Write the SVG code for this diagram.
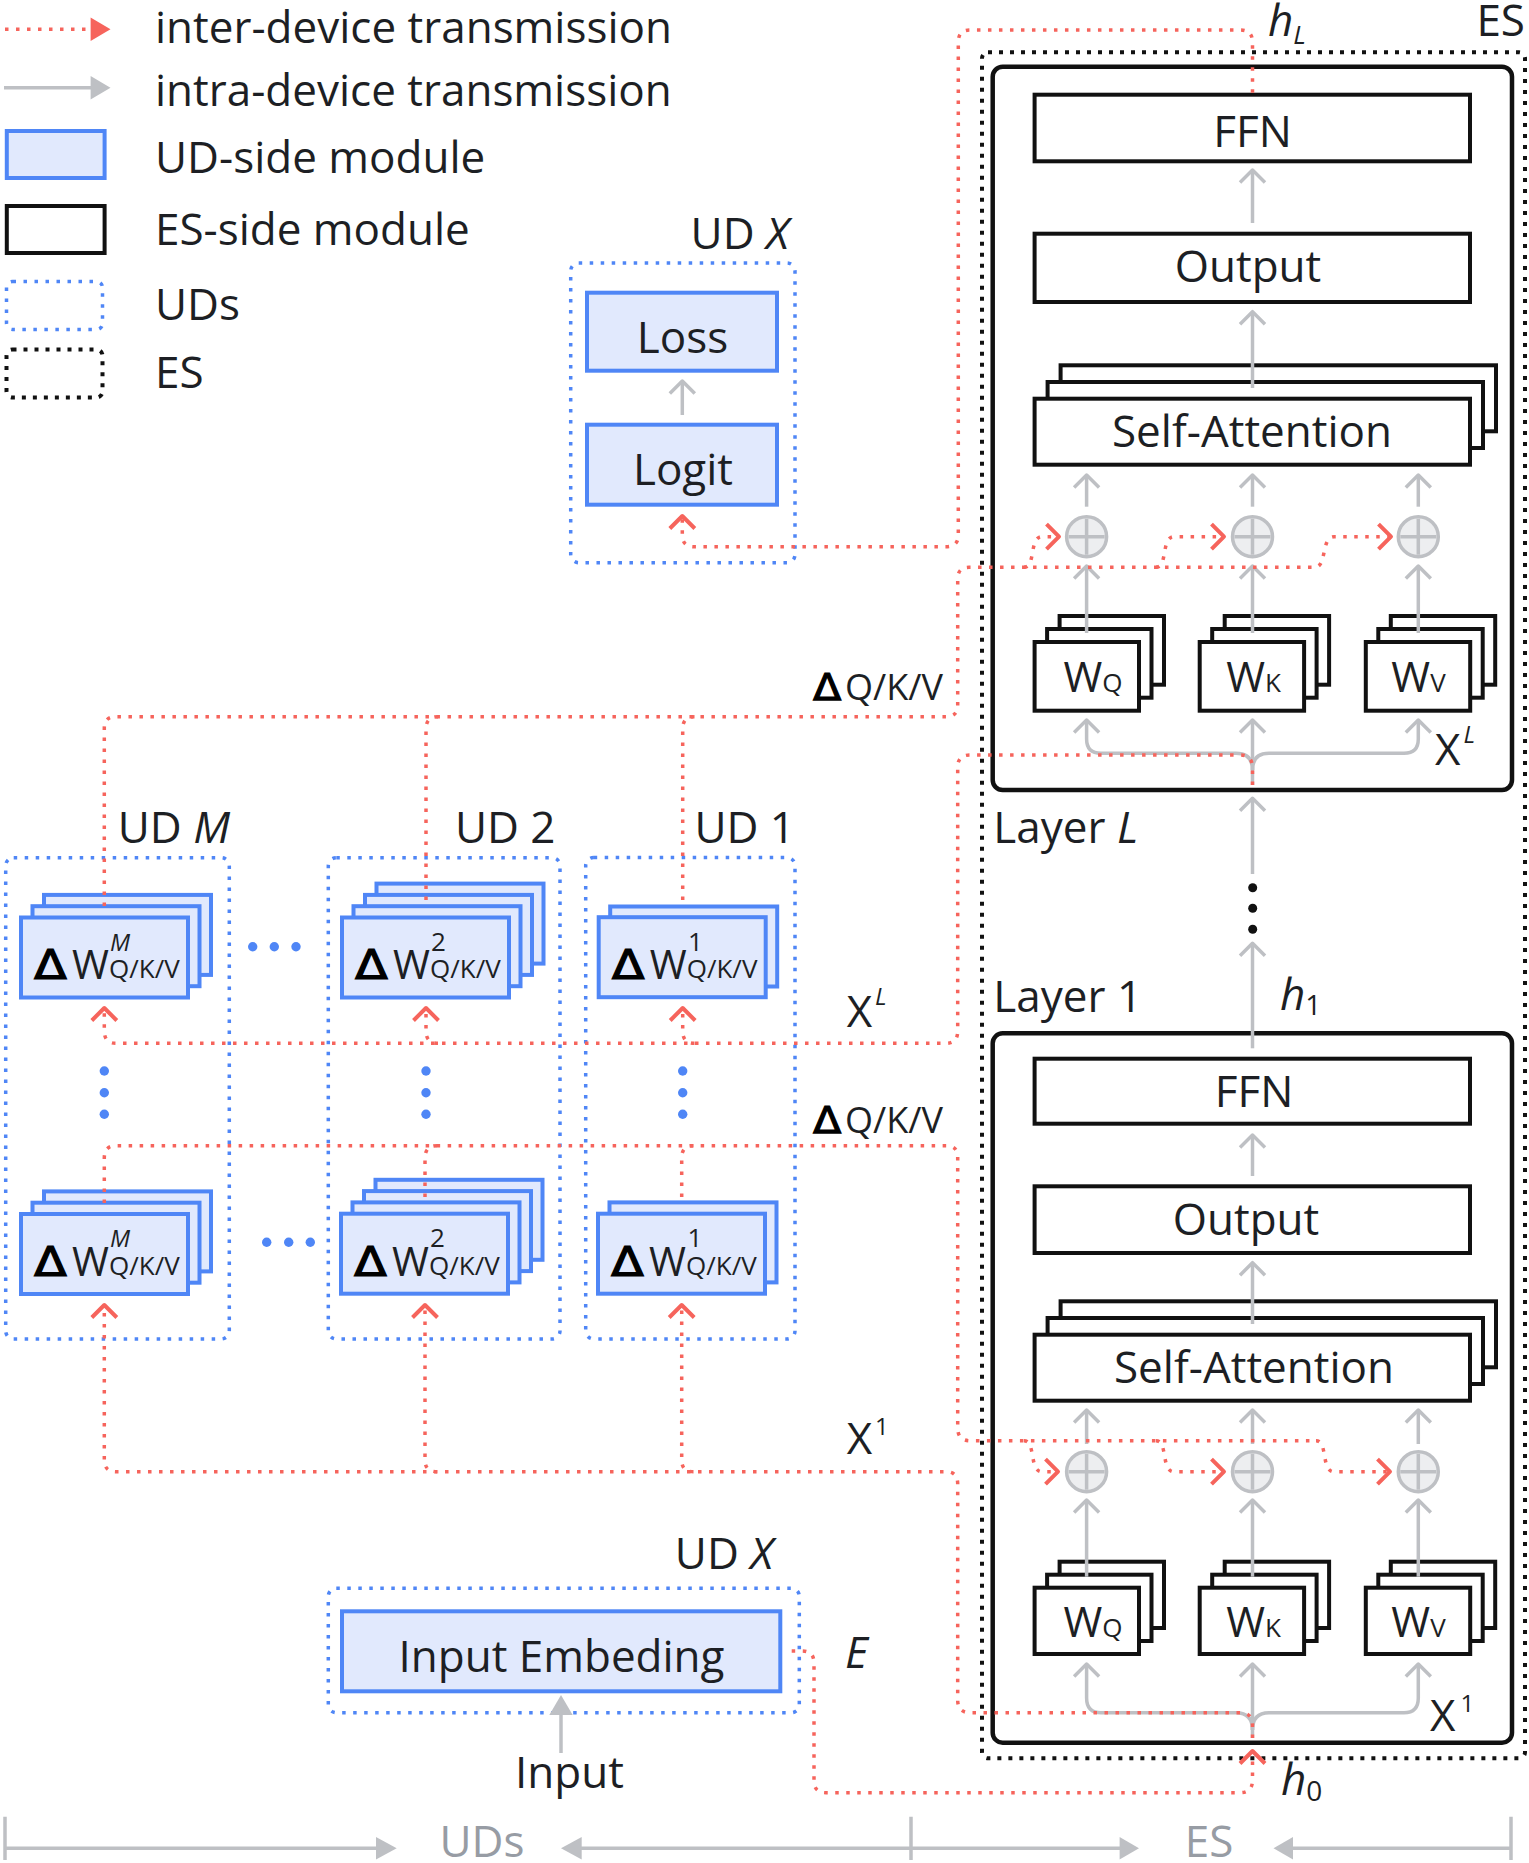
<svg xmlns="http://www.w3.org/2000/svg" width="1529" height="1863" viewBox="0 0 1529 1863">
<defs>
<style>
.t{font-family:"Open Sans","Noto Sans",sans-serif;font-size:44px;fill:#1d1f24}
.it{font-style:italic}
.dl{font-family:"DejaVu Sans",sans-serif;fill:#000;font-size:41px;stroke:#000;stroke-width:1.2}
.dm{font-family:"DejaVu Sans",sans-serif;fill:#000;font-size:37px;stroke:#000;stroke-width:1.1}
.ax{fill:#979ca4}
.blue{fill:#e1e9fd;stroke:#4f86f6;stroke-width:4}
.blk{fill:#fff;stroke:#111;stroke-width:4}
.lay{fill:none;stroke:#111;stroke-width:4.5}
.ud{fill:none;stroke:#4f86f6;stroke-width:3.5;stroke-dasharray:3.5 7.5}
.es{fill:none;stroke:#111;stroke-width:4;stroke-dasharray:4 7}
.red{fill:none;stroke:#f6645c;stroke-width:3.5;stroke-dasharray:3.5 7.5}
.gray{fill:none;stroke:#bec0c4;stroke-width:3.5}
.gfill{fill:#bec0c4}
.plus circle{fill:#edeef0;stroke:#bec0c4;stroke-width:3.5}
.plus path{stroke:#bec0c4;stroke-width:3.5}
.bdot{fill:#4f86f6}
</style>
<marker id="cg" markerUnits="userSpaceOnUse" markerWidth="32" markerHeight="32" viewBox="0 0 32 32" refX="28" refY="16" orient="auto" overflow="visible">
<path d="M15.5,3.5 L28,16 L15.5,28.5" fill="none" stroke="#bec0c4" stroke-width="3.5" stroke-linejoin="round"/>
</marker>
<marker id="cr" markerUnits="userSpaceOnUse" markerWidth="32" markerHeight="32" viewBox="0 0 32 32" refX="28" refY="16" orient="auto" overflow="visible">
<path d="M15.5,3.5 L28,16 L15.5,28.5" fill="none" stroke="#f6645c" stroke-width="4" stroke-linejoin="round"/>
</marker>
</defs>
<rect width="1529" height="1863" fill="#fff"/>

<g id="legend">
<path class="red" d="M5,29.3 H90"/>
<polygon points="90.6,17.6 110.5,29.3 90.6,41" fill="#f6645c"/>
<path class="gray" d="M4,87.7 H92"/>
<polygon class="gfill" points="90.6,76 110.5,87.7 90.6,99.4"/>
<rect class="blue" x="6.8" y="131" width="97.8" height="47"/>
<rect class="blk" x="6.8" y="206" width="97.8" height="47"/>
<rect class="ud" x="6.5" y="281.5" width="96" height="48" rx="6"/>
<rect class="es" x="6.5" y="349.5" width="96" height="48" rx="6"/>
<text class="t" x="155" y="42.5">inter-device transmission</text>
<text class="t" x="155" y="105.5">intra-device transmission</text>
<text class="t" x="155" y="173.3">UD-side module</text>
<text class="t" x="155" y="245">ES-side module</text>
<text class="t" x="155" y="320">UDs</text>
<text class="t" x="155" y="388.3">ES</text>
</g>

<g id="ud-x-head">
<rect class="ud" x="570.7" y="263" width="224.3" height="299.7" rx="8"/>
<text class="t" x="789" y="249" text-anchor="end">UD <tspan class="it">X</tspan></text>
<rect class="blue" x="587" y="292.7" width="190" height="78"/>
<text class="t" x="682.5" y="352.7" text-anchor="middle">Loss</text>
<rect class="blue" x="587" y="424.7" width="190" height="80"/>
<text class="t" x="683" y="485" text-anchor="middle">Logit</text>
</g>

<g id="ud-m">
<rect class="ud" x="5.7" y="857.7" width="223.6" height="481.3" rx="8"/>
<text class="t" x="230" y="843.3" text-anchor="end">UD <tspan class="it">M</tspan></text>
<rect class="blue" x="44" y="894.9" width="167" height="80"/>
<rect class="blue" x="32.5" y="906.2" width="167" height="80"/>
<rect class="blue" x="21" y="917.5" width="167" height="80"/>
<text class="dl" transform="translate(34,979) scale(1.17,1)">Δ</text>
<text class="t"><tspan x="72" y="979" font-size="40">W</tspan><tspan class="it" x="110" y="950.7" font-size="24">M</tspan><tspan x="109" y="978" font-size="26">Q/K/V</tspan></text>
<rect class="blue" x="44" y="1191.4" width="167" height="80"/>
<rect class="blue" x="32.5" y="1202.7" width="167" height="80"/>
<rect class="blue" x="21" y="1214" width="167" height="80"/>
<text class="dl" transform="translate(34,1275.5) scale(1.17,1)">Δ</text>
<text class="t"><tspan x="72" y="1275.5" font-size="40">W</tspan><tspan class="it" x="110" y="1247" font-size="24">M</tspan><tspan x="109" y="1274.5" font-size="26">Q/K/V</tspan></text>
<circle class="bdot" cx="104.3" cy="1071" r="4.7"/>
<circle class="bdot" cx="104.3" cy="1092.7" r="4.7"/>
<circle class="bdot" cx="104.3" cy="1114.3" r="4.7"/>
</g>

<g id="ellipsis-h">
<circle class="bdot" cx="252.7" cy="946.7" r="4.7"/>
<circle class="bdot" cx="274.3" cy="946.7" r="4.7"/>
<circle class="bdot" cx="296" cy="946.7" r="4.7"/>
<circle class="bdot" cx="266.7" cy="1242.3" r="4.7"/>
<circle class="bdot" cx="288.7" cy="1242.3" r="4.7"/>
<circle class="bdot" cx="310.3" cy="1242.3" r="4.7"/>
</g>

<g id="ud-2">
<rect class="ud" x="328.3" y="857.7" width="231.7" height="481.3" rx="8"/>
<text class="t" x="555.5" y="842.7" text-anchor="end">UD 2</text>
<rect class="blue" x="376.5" y="883.6" width="167" height="80"/>
<rect class="blue" x="365" y="894.9" width="167" height="80"/>
<rect class="blue" x="353.5" y="906.2" width="167" height="80"/>
<rect class="blue" x="342" y="917.5" width="167" height="80"/>
<text class="dl" transform="translate(355,979) scale(1.17,1)">Δ</text>
<text class="t"><tspan x="393" y="979" font-size="40">W</tspan><tspan x="431" y="950.7" font-size="26">2</tspan><tspan x="430" y="978" font-size="26">Q/K/V</tspan></text>
<rect class="blue" x="375.5" y="1179.8" width="167" height="80"/>
<rect class="blue" x="364" y="1191.1" width="167" height="80"/>
<rect class="blue" x="352.5" y="1202.4" width="167" height="80"/>
<rect class="blue" x="341" y="1213.7" width="167" height="80"/>
<text class="dl" transform="translate(354,1275.5) scale(1.17,1)">Δ</text>
<text class="t"><tspan x="392" y="1275.5" font-size="40">W</tspan><tspan x="430" y="1247" font-size="26">2</tspan><tspan x="429" y="1274.5" font-size="26">Q/K/V</tspan></text>
<circle class="bdot" cx="426" cy="1071" r="4.7"/>
<circle class="bdot" cx="426" cy="1092.7" r="4.7"/>
<circle class="bdot" cx="426" cy="1114.3" r="4.7"/>
</g>

<g id="ud-1">
<rect class="ud" x="585.7" y="857.5" width="209.3" height="481.5" rx="8"/>
<text class="t" x="795" y="842.7" text-anchor="end">UD 1</text>
<rect class="blue" x="610.2" y="906.5" width="167" height="80"/>
<rect class="blue" x="598.7" y="917.2" width="167" height="80"/>
<text class="dl" transform="translate(611.7,979) scale(1.17,1)">Δ</text>
<text class="t"><tspan x="649.7" y="979" font-size="40">W</tspan><tspan x="688" y="950.7" font-size="26">1</tspan><tspan x="686.7" y="978" font-size="26">Q/K/V</tspan></text>
<rect class="blue" x="609.5" y="1202.4" width="167" height="80"/>
<rect class="blue" x="598" y="1213.7" width="167" height="80"/>
<text class="dl" transform="translate(611,1275.5) scale(1.17,1)">Δ</text>
<text class="t"><tspan x="649" y="1275.5" font-size="40">W</tspan><tspan x="687.5" y="1247" font-size="26">1</tspan><tspan x="686" y="1274.5" font-size="26">Q/K/V</tspan></text>
<circle class="bdot" cx="682.7" cy="1071" r="4.7"/>
<circle class="bdot" cx="682.7" cy="1092.7" r="4.7"/>
<circle class="bdot" cx="682.7" cy="1114.3" r="4.7"/>
</g>

<g id="ud-x-embed">
<rect class="ud" x="328.3" y="1588.3" width="471" height="124.4" rx="8"/>
<text class="t" x="773.3" y="1569.3" text-anchor="end">UD <tspan class="it">X</tspan></text>
<rect class="blue" x="342" y="1611.3" width="438.3" height="80"/>
<text class="t" x="561.5" y="1671.7" text-anchor="middle">Input Embeding</text>
<text class="t" x="569.5" y="1788.3" text-anchor="middle">Input</text>
</g>

<g id="es">
<rect class="es" x="982" y="52.3" width="543" height="1706" rx="6"/>
<text class="t" x="1525" y="36" text-anchor="end">ES</text>
</g>

<g id="layer-L">
<rect class="lay" x="992.7" y="66.7" width="519.3" height="723.3" rx="10"/>
<rect class="blk" x="1034.6" y="94.7" width="435.4" height="66.6"/>
<text class="t" x="1252.5" y="146.7" text-anchor="middle">FFN</text>
<rect class="blk" x="1034.6" y="233.7" width="435.4" height="68.3"/>
<text class="t" x="1248" y="281.7" text-anchor="middle">Output</text>
<rect class="blk" x="1060.6" y="365.3" width="435.4" height="66"/>
<rect class="blk" x="1047.6" y="382" width="435.4" height="66"/>
<rect class="blk" x="1034.6" y="398.7" width="435.4" height="66"/>
<text class="t" x="1252" y="446.7" text-anchor="middle">Self-Attention</text>
<rect class="blk" x="1059.6" y="616" width="104.4" height="68.7"/>
<rect class="blk" x="1047.1" y="629" width="104.4" height="68.7"/>
<rect class="blk" x="1034.6" y="642" width="104.4" height="68.7"/>
<text class="t" x="1093" y="691.7" text-anchor="middle"><tspan font-size="42">W</tspan><tspan font-size="26">Q</tspan></text>
<rect class="blk" x="1224.7" y="616" width="104.4" height="68.7"/>
<rect class="blk" x="1212.2" y="629" width="104.4" height="68.7"/>
<rect class="blk" x="1199.7" y="642" width="104.4" height="68.7"/>
<text class="t" x="1253.5" y="691.7" text-anchor="middle"><tspan font-size="42">W</tspan><tspan font-size="26">K</tspan></text>
<rect class="blk" x="1390.8" y="616" width="104.4" height="68.7"/>
<rect class="blk" x="1378.3" y="629" width="104.4" height="68.7"/>
<rect class="blk" x="1365.8" y="642" width="104.4" height="68.7"/>
<text class="t" x="1418.5" y="691.7" text-anchor="middle"><tspan font-size="42">W</tspan><tspan font-size="26">V</tspan></text>
<g class="plus"><circle cx="1086.6" cy="536.7" r="20"/><path d="M1068.6,536.7 H1104.6 M1086.6,518.7 V554.7"/></g>
<g class="plus"><circle cx="1252.5" cy="536.7" r="20"/><path d="M1234.5,536.7 H1270.5 M1252.5,518.7 V554.7"/></g>
<g class="plus"><circle cx="1418.3" cy="536.7" r="20"/><path d="M1400.3,536.7 H1436.3 M1418.3,518.7 V554.7"/></g>
<text class="t" x="1435" y="765">X<tspan class="it" font-size="24" dx="3" dy="-22">L</tspan></text>
<text class="t" x="993.3" y="842.7">Layer <tspan class="it">L</tspan></text>
<text class="t it" x="1268" y="36">h<tspan font-size="26" dy="8">L</tspan></text>
</g>

<g id="between">
<circle cx="1252.7" cy="887.7" r="4.5" fill="#111"/>
<circle cx="1252.7" cy="908.3" r="4.5" fill="#111"/>
<circle cx="1252.7" cy="929.3" r="4.5" fill="#111"/>
<text class="t" x="993.3" y="1011.7">Layer 1</text>
<text class="t" x="1280" y="1010"><tspan class="it">h</tspan><tspan font-size="28" dy="5">1</tspan></text>
</g>

<g id="layer-1">
<rect class="lay" x="992.7" y="1033.3" width="519.3" height="709.4" rx="10"/>
<rect class="blk" x="1034.6" y="1058.7" width="435.4" height="65"/>
<text class="t" x="1254" y="1106.7" text-anchor="middle">FFN</text>
<rect class="blk" x="1034.6" y="1186.3" width="435.4" height="66.7"/>
<text class="t" x="1246" y="1235" text-anchor="middle">Output</text>
<rect class="blk" x="1060.6" y="1301.3" width="435.4" height="66"/>
<rect class="blk" x="1047.6" y="1318" width="435.4" height="66"/>
<rect class="blk" x="1034.6" y="1334.7" width="435.4" height="66"/>
<text class="t" x="1254" y="1382.7" text-anchor="middle">Self-Attention</text>
<rect class="blk" x="1059.6" y="1561.7" width="104.4" height="66.3"/>
<rect class="blk" x="1047.1" y="1574.7" width="104.4" height="66.3"/>
<rect class="blk" x="1034.6" y="1587.7" width="104.4" height="66.3"/>
<text class="t" x="1093" y="1636.7" text-anchor="middle"><tspan font-size="42">W</tspan><tspan font-size="26">Q</tspan></text>
<rect class="blk" x="1224.7" y="1561.7" width="104.4" height="66.3"/>
<rect class="blk" x="1212.2" y="1574.7" width="104.4" height="66.3"/>
<rect class="blk" x="1199.7" y="1587.7" width="104.4" height="66.3"/>
<text class="t" x="1253.5" y="1636.7" text-anchor="middle"><tspan font-size="42">W</tspan><tspan font-size="26">K</tspan></text>
<rect class="blk" x="1390.8" y="1561.7" width="104.4" height="66.3"/>
<rect class="blk" x="1378.3" y="1574.7" width="104.4" height="66.3"/>
<rect class="blk" x="1365.8" y="1587.7" width="104.4" height="66.3"/>
<text class="t" x="1418.5" y="1636.7" text-anchor="middle"><tspan font-size="42">W</tspan><tspan font-size="26">V</tspan></text>
<g class="plus"><circle cx="1086.6" cy="1471.7" r="20"/><path d="M1068.6,1471.7 H1104.6 M1086.6,1453.7 V1489.7"/></g>
<g class="plus"><circle cx="1252.5" cy="1471.7" r="20"/><path d="M1234.5,1471.7 H1270.5 M1252.5,1453.7 V1489.7"/></g>
<g class="plus"><circle cx="1418.3" cy="1471.7" r="20"/><path d="M1400.3,1471.7 H1436.3 M1418.3,1453.7 V1489.7"/></g>
<text class="t" x="1430" y="1730.7">X<tspan font-size="24" dx="5" dy="-19">1</tspan></text>
<text class="t" x="1281" y="1795"><tspan class="it">h</tspan><tspan font-size="28" dy="5.7">0</tspan></text>
</g>

<g id="labels">
<text class="dm" transform="translate(813,700) scale(1.12,1)">Δ</text>
<text class="t" x="845" y="700" style="font-size:36px">Q/K/V</text>
<text class="dm" transform="translate(813,1132.7) scale(1.12,1)">Δ</text>
<text class="t" x="845" y="1132.7" style="font-size:36px">Q/K/V</text>
<text class="t" x="846.7" y="1026.7">X<tspan class="it" font-size="24" dx="3" dy="-22">L</tspan></text>
<text class="t" x="846.7" y="1454">X<tspan font-size="24" dx="3" dy="-19">1</tspan></text>
<text class="t it" x="845" y="1668">E</text>
</g>

<g id="axis">
<path class="gray" stroke-width="4.5" d="M5,1848.3 H378 M580,1848.3 H1121 M1291,1848.3 H1511"/>
<path class="gray" stroke-width="3" d="M5,1816.7 V1860 M911,1816.7 V1860 M1511,1816.7 V1860"/>
<polygon class="gfill" points="376,1837 396.7,1848.3 376,1859.6"/>
<polygon class="gfill" points="581.7,1837 561,1848.3 581.7,1859.6"/>
<polygon class="gfill" points="1119.6,1837 1139,1848.3 1119.6,1859.6"/>
<polygon class="gfill" points="1293,1837 1273.5,1848.3 1293,1859.6"/>
<text class="t ax" x="482" y="1856.7" text-anchor="middle">UDs</text>
<text class="t ax" x="1209" y="1857.3" text-anchor="middle">ES</text>
</g>

<g id="connectors">
<g marker-end="url(#cg)">
<path class="gray" d="M682.3,415 V381"/>
<path class="gray" d="M1252.5,223 V170"/>
<path class="gray" d="M1252.5,388 V311.7"/>
<path class="gray" d="M1086.6,506.7 V475"/>
<path class="gray" d="M1252.5,506.7 V475"/>
<path class="gray" d="M1418.3,506.7 V475"/>
<path class="gray" d="M1086.6,633 V566"/>
<path class="gray" d="M1252.5,633 V566"/>
<path class="gray" d="M1418.3,633 V566"/>
<path class="gray" d="M1252.5,785 V720"/>
<path class="gray" d="M1252.5,770 Q1252.5,753.3 1236,753.3 H1101 Q1086.6,753.3 1086.6,739 V720"/>
<path class="gray" d="M1252.5,770 Q1252.5,753.3 1269,753.3 H1404 Q1418.3,753.3 1418.3,739 V720"/>
<path class="gray" d="M1252.5,874 V798.3"/>
<path class="gray" d="M1252.5,1048.3 V943.3"/>
<path class="gray" d="M1252.5,1176 V1135"/>
<path class="gray" d="M1252.5,1324 V1262.7"/>
<path class="gray" d="M1086.6,1444 V1410"/>
<path class="gray" d="M1252.5,1444 V1410"/>
<path class="gray" d="M1418.3,1444 V1410"/>
<path class="gray" d="M1086.6,1576.7 V1500"/>
<path class="gray" d="M1252.5,1576.7 V1500"/>
<path class="gray" d="M1418.3,1576.7 V1500"/>
<path class="gray" d="M1252.5,1738 V1664"/>
<path class="gray" d="M1252.5,1730 Q1252.5,1712.7 1236,1712.7 H1101 Q1086.6,1712.7 1086.6,1698 V1664"/>
<path class="gray" d="M1252.5,1730 Q1252.5,1712.7 1269,1712.7 H1404 Q1418.3,1712.7 1418.3,1698 V1664"/>
</g>
<path class="gray" d="M561,1753 V1713"/>
<polygon class="gfill" points="549.3,1715 572.7,1715 561,1695"/>

<g marker-end="url(#cr)">
<path class="red" d="M1252.5,92.7 V42 Q1252.5,30 1240,30 H970 Q958.3,30 958.3,42 V535 Q958.3,546.7 946,546.7 H694 Q682.3,546.7 682.3,535 V516"/>
<path class="red" d="M104.3,906 V728 Q104.3,716.7 116,716.7 H946 Q957.7,716.7 957.7,705 V579 Q957.7,567.3 969,567.3 H1315 C1327,567.3 1321,536.7 1334,536.7 H1391"/>
<path class="red" d="M1024,567.3 C1036,567.3 1029,536.7 1042,536.7 H1059"/>
<path class="red" d="M1156,567.3 C1168,567.3 1161,536.7 1174,536.7 H1224"/>
<path class="red" d="M1252.5,785 V768 Q1252.5,755 1240,755 H970 Q957.7,755 957.7,767 V1031 Q957.7,1043.3 946,1043.3 H116 Q104.3,1043.3 104.3,1031 V1008"/>
<path class="red" d="M438,1043.3 Q426,1043.3 426,1031 V1008"/>
<path class="red" d="M694.5,1043.3 Q682.7,1043.3 682.7,1031 V1008"/>
<path class="red" d="M1316,1440.7 C1328,1440.7 1321,1471.7 1334,1471.7 H1390"/>
<path class="red" d="M1024,1440.7 C1036,1440.7 1029,1471.7 1042,1471.7 H1058"/>
<path class="red" d="M1156,1440.7 C1168,1440.7 1161,1471.7 1174,1471.7 H1224"/>
<path class="red" d="M1252.5,1738 V1725 Q1252.5,1712.7 1240,1712.7 H970 Q957.7,1712.7 957.7,1700 V1484 Q957.7,1471.7 946,1471.7 H116 Q104.3,1471.7 104.3,1460 V1305"/>
<path class="red" d="M437,1471.7 Q425,1471.7 425,1460 V1305"/>
<path class="red" d="M693.5,1471.7 Q681.7,1471.7 681.7,1460 V1305"/>
<path class="red" d="M791.7,1651 H802 Q814,1651 814,1663 V1781 Q814,1792.7 826,1792.7 H1240 Q1252.5,1792.7 1252.5,1780 V1751"/>
</g>
<path class="red" d="M104.3,1203 V1158 Q104.3,1145.7 116,1145.7 H946 Q957.7,1145.7 957.7,1157 V1428 Q957.7,1440.7 970,1440.7 H1316"/>
<path class="red" d="M437,1145.7 Q425,1145.7 425,1158 V1202"/>
<path class="red" d="M693.5,1145.7 Q681.7,1145.7 681.7,1158 V1202"/>
<path class="red" d="M438,716.7 Q426,716.7 426,729 V906"/>
<path class="red" d="M694.5,716.7 Q682.7,716.7 682.7,729 V905"/>
</g>
</svg>
